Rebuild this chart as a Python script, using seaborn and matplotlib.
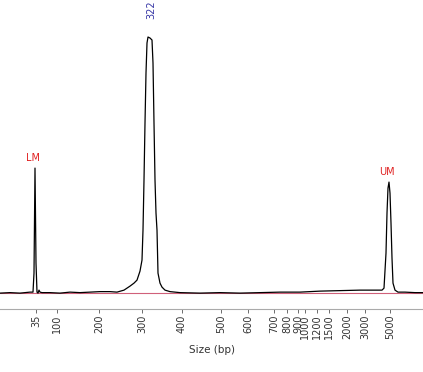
import matplotlib
matplotlib.use("Agg")
import matplotlib.pyplot as plt
import seaborn as sns
import pandas as pd

sns.set_theme(style="white")
plt.rcParams["font.family"] = ["DejaVu Sans"]

# migration position (run units) and signal (FU)
position = [0, 10, 20, 30, 33, 34, 35, 36, 37, 38, 39, 40, 42, 50, 60, 70, 80,
            90, 100, 110, 117, 124, 130, 134, 137, 140, 142, 143, 144, 145, 146,
            147, 148, 150, 152, 153, 154, 155, 156, 157, 158, 160, 162, 165,
            170, 180, 200, 220, 240, 260, 280, 300, 320, 340, 360, 375, 382,
            384, 386, 387, 388, 389, 390, 391, 392, 393, 395, 398, 405, 415, 423]
signal = [0, 0.5, 0, 1, 1, 20, 125, 30, 1, 0, 3, 1, 0.5, 0.5, 0, 1, 0.5,
          1, 1.5, 1.5, 1, 3, 7, 10, 13, 22, 33, 63, 113, 170, 220,
          250, 256, 255, 253, 230, 170, 113, 80, 63, 20, 10, 6, 3,
          1.5, 0.5, 0, 0.5, 0, 0.5, 1, 1, 2, 2.5, 3, 3, 3,
          5, 40, 80, 105, 111, 100, 70, 35, 10, 3, 1, 1, 0.5, 0.5]

# ladder sizes and where they sit on the run axis
size_labels = ["35", "100", "200", "300", "400", "500", "600", "700", "800",
               "900", "1000", "1200", "1500", "2000", "3000", "5000"]
size_pos = [36, 57, 99, 142, 182, 221, 248, 274, 287, 298, 305, 317, 329,
            347, 365, 390]

# annotated peaks
peak_names = ["LM", "UM"]
peak_pos = [35, 389]
peak_height = [125, 111]
main_peak_pos = 150
main_peak_size = "322"

df = pd.DataFrame({"pos": position, "fu": signal})

fig = plt.figure(figsize=(4.23, 3.72), dpi=100)
ax = fig.add_axes([0, 0.169, 1, 0.831])

ax.axhline(0, color="#d0607a", linewidth=0.8, zorder=1)
sns.lineplot(data=df, x="pos", y="fu", color="black", linewidth=0.9,
             estimator=None, sort=False, ax=ax, zorder=2)

for name, x, h in zip(peak_names, peak_pos, peak_height):
    ax.text(x - 2, h + 5, name, color="#e02020", fontsize=7,
            ha="center", va="bottom")
ax.text(main_peak_pos + 1, 283, main_peak_size, color="#3535a5", fontsize=7,
        rotation=90, ha="center", va="center")

ax.set_xlim(0, 423)
ax.set_ylim(-16, 293)
ax.set_xticks(size_pos)
ax.set_xticklabels(size_labels, rotation=90, fontsize=7, color="#333333")
ax.set_yticks([])
ax.tick_params(axis="x", bottom=True, length=3, width=0.6, color="#555555", pad=1)
ax.set_xlabel("Size (bp)", fontsize=7.5, color="#333333", labelpad=4)
ax.set_ylabel("")

for side in ["top", "left", "right"]:
    ax.spines[side].set_visible(False)
ax.spines["bottom"].set_color("#aaaaaa")
ax.spines["bottom"].set_linewidth(0.8)
ax.set_facecolor("white")

fig.savefig("out.png", dpi=100)
